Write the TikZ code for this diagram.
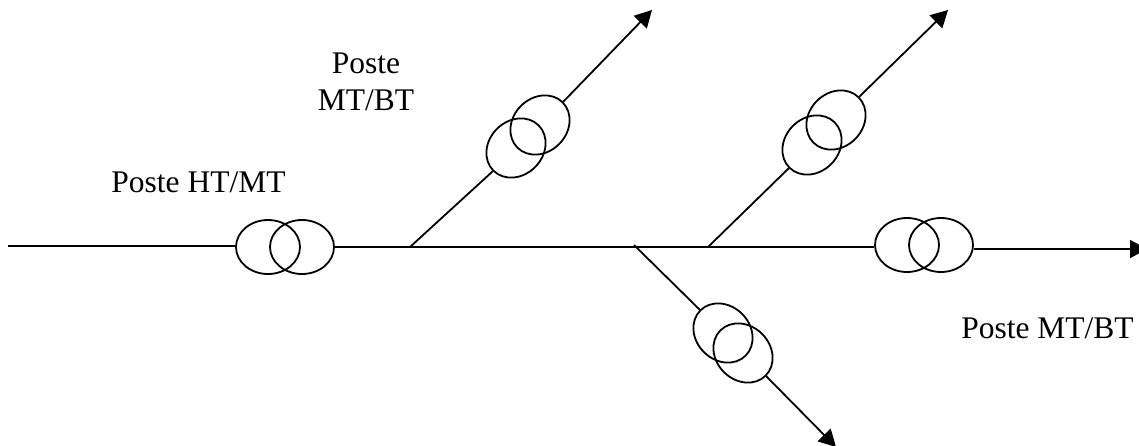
\documentclass[tikz,border=0pt]{standalone}
\usepackage{fontspec}
\setmainfont{Liberation Serif}
\usetikzlibrary{shapes.geometric,arrows.meta}
\tikzset{
  coil/.style={draw=black,line width=1.8pt,ellipse,inner sep=0pt,minimum width=64pt,minimum height=54pt},
  wire/.style={draw=black,line width=1.8pt},
  feeder/.style={wire,-{Triangle[length=17pt,width=18pt]}},
  lbl/.style={font=\fontsize{31.5}{37}\selectfont,inner sep=0pt,text=black,anchor=base}
}
\begin{document}
\begin{tikzpicture}[x=1pt,y=-1pt]
\useasboundingbox (0,0) rectangle (1139,445);
% transformers
\node[coil] (a1) at (268,247) {};
\node[coil] (a2) at (302,247) {};
\node[coil,rotate=45] (b1) at (516,148) {};
\node[coil,rotate=45] (b2) at (540,125) {};
\node[coil,rotate=45] (c1) at (812,145) {};
\node[coil,rotate=45] (c2) at (836,120) {};
\node[coil] (d1) at (907,245) {};
\node[coil] (d2) at (941,245) {};
\node[coil,rotate=-45] (e1) at (723,333) {};
\node[coil,rotate=-45] (e2) at (743,353) {};
% free ends and junctions
\coordinate (in) at (8,246);
\coordinate (jb) at (410,247);
\coordinate (je) at (634,245);
\coordinate (jc) at (708,247);
\coordinate (outb) at (652,10);
\coordinate (outc) at (948,10);
\coordinate (outd) at (1147,249);
\coordinate (oute) at (836,447);
% connectors
\draw[wire] (in) -- (a1.west |- in);
\draw[wire] (a2.east) -- (jb) -- (jc) -- (d1.west |- jc);
\draw[wire] (jb) -- (b1.west);
\draw[feeder] (b2.east) -- (outb);
\draw[wire] (jc) -- (c1.west);
\draw[feeder] (c2.east) -- (outc);
\draw[feeder] (d2.east |- outd) -- (outd);
\draw[wire] (je) -- (e1.west);
\draw[feeder] (e2.east) -- (oute);
% labels
\node[lbl] (t1) at (198.5,192) {Poste HT/MT};
\node[lbl] (t2a) at (366,73) {Poste};
\node[lbl] (t2b) at (366,110) {MT/BT};
\node[lbl] (t3) at (1047.5,338) {Poste MT/BT};
\end{tikzpicture}
\end{document}
